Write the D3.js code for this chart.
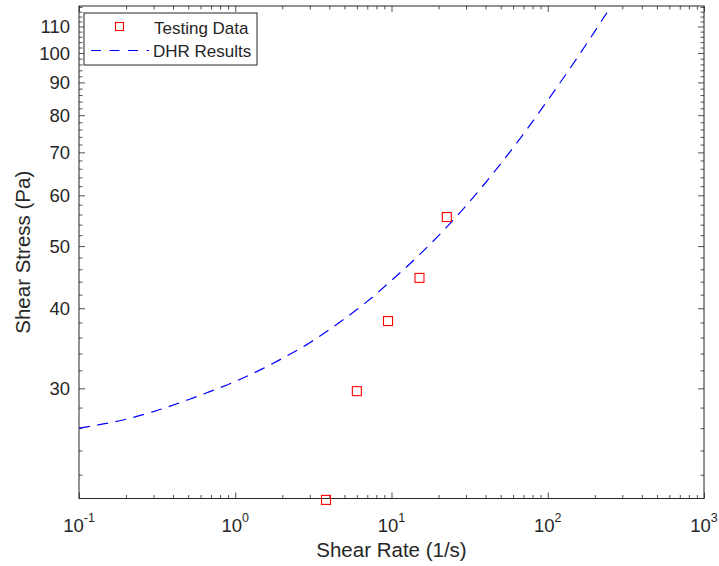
<!DOCTYPE html>
<html>
<head>
<meta charset="utf-8">
<script src="https://cdn.jsdelivr.net/npm/d3@7"></script>
<style>
  html, body { margin: 0; padding: 0; background: #fff; }
  svg { display: block; font-family: "Liberation Sans", Arial, sans-serif; }
</style>
</head>
<body>
<svg id="chart" width="719" height="566"></svg>
<script>
// Measured samples
const testRate = [3.81, 6.0, 9.5, 15.1, 22.6];
const testStress = [20.1, 29.7, 38.2, 44.6, 55.5];

// DHR model curve, sampled along shear rate
const dhrRate = [0.1, 0.15, 0.2, 0.3, 0.5, 0.7, 1, 1.5, 2, 3, 5, 7, 10, 15, 20, 30, 50, 70, 100, 150, 200, 260, 300];
const dhrStress = [26.0, 26.45, 26.85, 27.6, 28.8, 29.7, 30.75, 32.2, 33.4, 35.35, 38.5, 41.0, 44.2, 48.4, 51.9, 57.8, 67.2, 74.8, 84.4, 97.3, 108.1, 119.4, 126.4];

// Axis ticks
const xTickExp = [-1, 0, 1, 2, 3];
const yTicks = [30, 40, 50, 60, 70, 80, 90, 100, 110];
const xDomain = [0.1, 1000];
const yDomain = [20.2, 118.4];

const legendLabels = ["Testing Data", "DHR Results"];
const xTitle = "Shear Rate (1/s)";
const yTitle = "Shear Stress (Pa)";

const ink = "#262626";
const plotL = 79, plotR = 704, plotT = 6, plotB = 498.5;

const svg = d3.select("#chart");
const x = d3.scaleLog().domain(xDomain).range([plotL, plotR]);
const y = d3.scaleLog().domain(yDomain).range([plotB, plotT]);

// Tick sets
const xMajor = xTickExp.map(e => Math.pow(10, e));
const xMinor = [];
for (let e = -1; e < 3; e++) for (let k = 2; k <= 9; k++) xMinor.push(k * Math.pow(10, e));
const yMinor = [];
for (let v = 22; v <= 118; v += 2) if (v % 10 !== 0) yMinor.push(v);

function tickAxis(axisFn, scale, values, size, transform) {
  const g = svg.append("g").attr("transform", transform)
    .call(axisFn(scale).tickValues(values).tickSizeInner(size).tickSizeOuter(0).tickFormat(""));
  g.select(".domain").remove();
  g.selectAll(".tick line").attr("stroke", ink).attr("stroke-width", 0.8);
}

// Bottom and top ticks (pointing inward)
tickAxis(d3.axisBottom, x, xMajor, -6, `translate(0,${plotB})`);
tickAxis(d3.axisBottom, x, xMinor, -3.5, `translate(0,${plotB})`);
tickAxis(d3.axisTop, x, xMajor, -6, `translate(0,${plotT})`);
tickAxis(d3.axisTop, x, xMinor, -3.5, `translate(0,${plotT})`);
// Left and right ticks
tickAxis(d3.axisLeft, y, yTicks, -6, `translate(${plotL},0)`);
tickAxis(d3.axisLeft, y, yMinor, -3.5, `translate(${plotL},0)`);
tickAxis(d3.axisRight, y, yTicks, -6, `translate(${plotR},0)`);
tickAxis(d3.axisRight, y, yMinor, -3.5, `translate(${plotR},0)`);

// Axes box
svg.append("rect")
  .attr("x", plotL).attr("y", plotT)
  .attr("width", plotR - plotL).attr("height", plotB - plotT)
  .attr("fill", "none").attr("stroke", ink).attr("stroke-width", 1);

// X tick labels as powers of ten
const xl = svg.append("g").attr("fill", ink);
xTickExp.forEach(e => {
  const t = xl.append("text")
    .attr("x", x(Math.pow(10, e))).attr("y", 531.5)
    .attr("text-anchor", "middle").attr("font-size", 18.5);
  t.append("tspan").text("10");
  t.append("tspan").attr("dy", -9.5).attr("font-size", 12.5).text(String(e));
});

// Y tick labels
svg.append("g").selectAll("text").data(yTicks).join("text")
  .attr("x", 70).attr("y", d => y(d))
  .attr("dy", "0.35em")
  .attr("text-anchor", "end").attr("font-size", 18.5).attr("fill", ink)
  .text(d => d);

// Axis titles
svg.append("text")
  .attr("x", (plotL + plotR) / 2).attr("y", 557)
  .attr("text-anchor", "middle").attr("font-size", 20.5).attr("fill", ink)
  .text(xTitle);
svg.append("text")
  .attr("transform", `translate(30,${(plotT + plotB) / 2}) rotate(-90)`)
  .attr("text-anchor", "middle").attr("font-size", 20.5).attr("fill", ink)
  .text(yTitle);

// Clip for the model curve
svg.append("clipPath").attr("id", "plotClip")
  .append("rect").attr("x", plotL).attr("y", plotT)
  .attr("width", plotR - plotL).attr("height", plotB - plotT);

const dhr = dhrRate.map((r, i) => [r, dhrStress[i]]);
const line = d3.line().x(d => x(d[0])).y(d => y(d[1])).curve(d3.curveMonotoneX);
svg.append("path")
  .attr("clip-path", "url(#plotClip)")
  .attr("d", line(dhr))
  .attr("fill", "none").attr("stroke", "#0000ff")
  .attr("stroke-width", 1.2).attr("stroke-dasharray", "11,7.5");

// Testing data markers
const sq = 9;
svg.append("g").selectAll("rect").data(testRate.map((r, i) => [r, testStress[i]])).join("rect")
  .attr("x", d => x(d[0]) - sq / 2).attr("y", d => y(d[1]) - sq / 2)
  .attr("width", sq).attr("height", sq)
  .attr("fill", "none").attr("stroke", "#ff0000").attr("stroke-width", 1.1);

// Legend
const lg = svg.append("g");
lg.append("rect").attr("x", 84).attr("y", 13).attr("width", 173).attr("height", 52)
  .attr("fill", "#fff").attr("stroke", ink).attr("stroke-width", 1);
lg.append("rect").attr("x", 119.5 - 4).attr("y", 26.5 - 4).attr("width", 8).attr("height", 8)
  .attr("fill", "none").attr("stroke", "#ff0000").attr("stroke-width", 1.1);
lg.append("line").attr("x1", 91).attr("x2", 149).attr("y1", 50.5).attr("y2", 50.5)
  .attr("stroke", "#0000ff").attr("stroke-width", 1.2).attr("stroke-dasharray", "10,8.5");
lg.append("text").attr("x", 154).attr("y", 34).attr("font-size", 17).attr("fill", ink).text(legendLabels[0]);
lg.append("text").attr("x", 153).attr("y", 56.5).attr("font-size", 17).attr("fill", ink).text(legendLabels[1]);
</script>
</body>
</html>
